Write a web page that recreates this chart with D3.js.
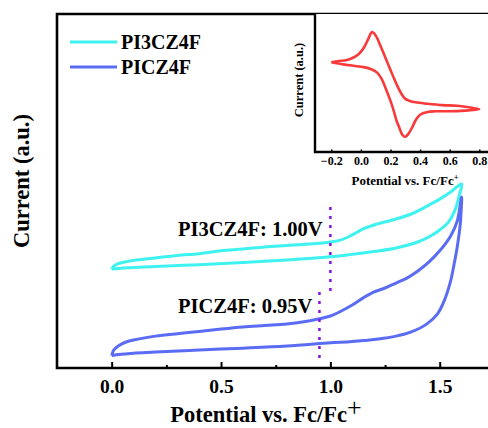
<!DOCTYPE html>
<html>
<head>
<meta charset="utf-8">
<script src="https://cdn.jsdelivr.net/npm/d3@7"></script>
<style>
  html, body { margin: 0; padding: 0; background: #fff; }
  svg text { font-family: "Liberation Serif", "Times New Roman", Tinos, "DejaVu Serif", serif; font-weight: bold; fill: #000; }
</style>
</head>
<body>
<svg id="chart" width="488" height="428"></svg>
<script>
// ---- Main CV data: potential (V vs Fc/Fc+) and current (a.u.) ----
const pi3Potential = [0.0, 0.01, 0.03, 0.1, 0.2, 0.3, 0.4, 0.5, 0.6, 0.7, 0.8, 0.9, 1.0, 1.05, 1.1, 1.15, 1.2, 1.3, 1.37, 1.45, 1.5, 1.55, 1.6,
                      1.59, 1.57, 1.54, 1.5, 1.45, 1.4, 1.3, 1.2, 1.1, 1.0, 0.8, 0.6, 0.4, 0.2, 0.1, 0.03, 0.0];
const pi3Current   = [28.0, 28.8, 29.5, 30.4, 31.1, 31.8, 32.3, 33.1, 33.6, 34.2, 34.6, 35.0, 35.6, 36.2, 37.6, 39.3, 40.4, 42.1, 43.5, 46.0, 47.7, 49.7, 52.0,
                      48.9, 44.6, 41.2, 39.0, 37.0, 35.6, 33.9, 32.9, 32.1, 31.4, 30.5, 29.8, 29.2, 28.7, 28.4, 28.1, 28.0];

const piPotential  = [0.0, 0.01, 0.03, 0.06, 0.1, 0.2, 0.3, 0.4, 0.5, 0.6, 0.7, 0.8, 0.9, 1.0, 1.05, 1.1, 1.15, 1.2, 1.25, 1.3, 1.35, 1.4, 1.45, 1.5, 1.55, 1.58, 1.6,
                      1.598, 1.594, 1.58, 1.565, 1.55, 1.52, 1.49, 1.44, 1.37, 1.3, 1.22, 1.1, 1.0, 0.8, 0.6, 0.4, 0.2, 0.1, 0.03, 0.0];
const piCurrent    = [3.5, 5.1, 6.2, 7.2, 7.9, 9.0, 9.7, 10.3, 11.0, 11.6, 12.0, 12.4, 13.3, 14.7, 16.1, 17.8, 19.8, 21.5, 22.6, 24.0, 25.4, 27.4, 29.9, 33.1, 37.3, 41.5, 48.3,
                      44.6, 40.7, 34.2, 29.1, 24.6, 18.9, 15.3, 12.4, 10.2, 9.0, 8.2, 7.5, 7.1, 6.2, 5.6, 5.1, 4.5, 4.2, 3.8, 3.5];

// Onset potentials marked on the plot
const onsetNames  = ["PI3CZ4F", "PICZ4F"];
const onsetValues = [1.00, 0.95];
const onsetSpans  = [[45.5, 21], [21.5, 2.5]];   // current range covered by each marker

const seriesNames  = ["PI3CZ4F", "PICZ4F"];
const seriesColors = ["#3ef2f0", "#5b6cf4"];

const xTicksMain = [0.0, 0.5, 1.0, 1.5];
const xMinorMain = [0.25, 0.75, 1.25];

// ---- Inset: ferrocene reference CV ----
const fcPotential = [-0.2, -0.15, -0.1, -0.05, -0.02, 0.01, 0.03, 0.05, 0.065, 0.075, 0.09, 0.11, 0.13, 0.15, 0.175, 0.2, 0.225, 0.25, 0.275, 0.3, 0.33, 0.37, 0.45, 0.55, 0.65, 0.75, 0.8,
                     0.7, 0.6, 0.5, 0.45, 0.4, 0.37, 0.345, 0.32, 0.3, 0.28, 0.26, 0.24, 0.22, 0.2, 0.17, 0.14, 0.11, 0.07, 0.02, -0.05, -0.12, -0.2];
const fcCurrent   = [0.30, 0.32, 0.33, 0.37, 0.41, 0.48, 0.55, 0.64, 0.71, 0.74, 0.72, 0.65, 0.55, 0.45, 0.32, 0.19, 0.06, -0.06, -0.16, -0.23, -0.26, -0.28, -0.30, -0.32, -0.33, -0.36, -0.38,
                     -0.40, -0.41, -0.41, -0.42, -0.46, -0.54, -0.65, -0.74, -0.78, -0.75, -0.65, -0.54, -0.39, -0.26, -0.09, 0.06, 0.15, 0.20, 0.23, 0.25, 0.27, 0.30];
const xTicksInset = [-0.2, 0.0, 0.2, 0.4, 0.6, 0.8];

const svg = d3.select("#chart");

// ---- Main panel ----
const M = { left: 57, top: 14, bottom: 368 };
const x = d3.scaleLinear().domain([-0.25, 1.75]).range([M.left, M.left + 2 * 218.7]);
const y = d3.scaleLinear().domain([0, 100]).range([M.bottom, M.top]);

const line = d3.line().x(d => x(d[0])).y(d => y(d[1])).curve(d3.curveCatmullRom.alpha(0.5));

const mainSeries = [
  d3.zip(pi3Potential, pi3Current),
  d3.zip(piPotential, piCurrent)
];

mainSeries.forEach((pts, i) => {
  svg.append("path")
    .attr("d", line(pts))
    .attr("fill", "none")
    .attr("stroke", seriesColors[i])
    .attr("stroke-width", 3)
    .attr("stroke-linejoin", "round");
});

// onset markers (dotted)
onsetValues.forEach((v, i) => {
  svg.append("line")
    .attr("x1", x(v)).attr("x2", x(v))
    .attr("y1", y(onsetSpans[i][0])).attr("y2", y(onsetSpans[i][1]))
    .attr("stroke", "#8a10e8")
    .attr("stroke-width", 2.5)
    .attr("stroke-dasharray", "3,6");
});

// onset labels
const onsetLabelPos = [[178, 236], [178, 313]];
onsetNames.forEach((n, i) => {
  svg.append("text")
    .attr("x", onsetLabelPos[i][0]).attr("y", onsetLabelPos[i][1])
    .attr("font-size", 20.5)
    .text(`${n}: ${onsetValues[i].toFixed(2)}V`);
});

// bottom axis with inward ticks
const xAxis = d3.axisBottom(x).tickValues(xTicksMain).tickFormat(d3.format(".1f")).tickSizeInner(-6).tickSizeOuter(0);
const gx = svg.append("g").attr("transform", `translate(0,${M.bottom})`).call(xAxis);
gx.attr("font-family", null);
gx.select(".domain").remove();
gx.selectAll(".tick line").attr("stroke", "#000").attr("stroke-width", 2);
gx.selectAll(".tick text").attr("font-size", 19.5).attr("fill", "#000").attr("dy", "1.12em");
const gMinor = svg.append("g").attr("transform", `translate(0,${M.bottom})`)
  .call(d3.axisBottom(x).tickValues(xMinorMain).tickSizeInner(-3).tickSizeOuter(0).tickFormat(""));
gMinor.select(".domain").remove();
gMinor.selectAll(".tick line").attr("stroke", "#000").attr("stroke-width", 2);

// frame of main panel (left, top, bottom)
svg.append("path")
  .attr("d", `M${488 + 5},${M.top}H${M.left}V${M.bottom}H${488 + 5}`)
  .attr("fill", "none").attr("stroke", "#000").attr("stroke-width", 2.6);

// axis titles
const xt = svg.append("text").attr("x", 266).attr("y", 422).attr("text-anchor", "middle").attr("font-size", 22.5);
xt.append("tspan").text("Potential vs. Fc/Fc");
xt.append("tspan").attr("dy", -6).attr("font-size", 26).attr("font-weight", "normal").text("+");

svg.append("text")
  .attr("transform", `translate(29,181) rotate(-90)`)
  .attr("text-anchor", "middle").attr("font-size", 22.5)
  .text("Current (a.u.)");

// legend
const legendY = [42, 67];
seriesNames.forEach((n, i) => {
  svg.append("line").attr("x1", 70).attr("x2", 117).attr("y1", legendY[i]).attr("y2", legendY[i])
    .attr("stroke", seriesColors[i]).attr("stroke-width", 3);
  svg.append("text").attr("x", 121).attr("y", legendY[i] + 7).attr("font-size", 20).text(n);
});

// ---- Inset panel ----
const I = { left: 315, top: 14, bottom: 152 };
const xi = d3.scaleLinear().domain([-0.31, 0.9]).range([I.left, I.left + 1.21 * 148]);
const yi = d3.scaleLinear().domain([-1, 1]).range([I.bottom, I.top]);

svg.append("rect").attr("x", I.left).attr("y", I.top).attr("width", 488 - I.left).attr("height", I.bottom - I.top).attr("fill", "#fff");

const lineI = d3.line().x(d => xi(d[0])).y(d => yi(d[1])).curve(d3.curveCatmullRom.alpha(0.5));
svg.append("path")
  .attr("d", lineI(d3.zip(fcPotential, fcCurrent)))
  .attr("fill", "none").attr("stroke", "#f83a3a").attr("stroke-width", 2.6).attr("stroke-linejoin", "round");

const xAxisI = d3.axisBottom(xi).tickValues(xTicksInset).tickFormat(d3.format(".1f")).tickSizeInner(-2.5).tickSizeOuter(0);
const gxi = svg.append("g").attr("transform", `translate(0,${I.bottom})`).call(xAxisI);
gxi.attr("font-family", null);
gxi.select(".domain").remove();
gxi.selectAll(".tick line").attr("stroke", "#000").attr("stroke-width", 1.5);
gxi.selectAll(".tick text").attr("font-size", 12).attr("fill", "#000").attr("dy", "0.85em");

svg.append("path")
  .attr("d", `M${I.left},${I.top}V${I.bottom}H${488 + 5}`)
  .attr("fill", "none").attr("stroke", "#000").attr("stroke-width", 2.4);

const xti = svg.append("text").attr("x", 405).attr("y", 185).attr("text-anchor", "middle").attr("font-size", 13);
xti.append("tspan").text("Potential vs. Fc/Fc");
xti.append("tspan").attr("dy", -5).attr("font-size", 8.5).text("+");

svg.append("text")
  .attr("transform", `translate(303,80) rotate(-90)`)
  .attr("text-anchor", "middle").attr("font-size", 12.5)
  .text("Current (a.u.)");
</script>
</body>
</html>
